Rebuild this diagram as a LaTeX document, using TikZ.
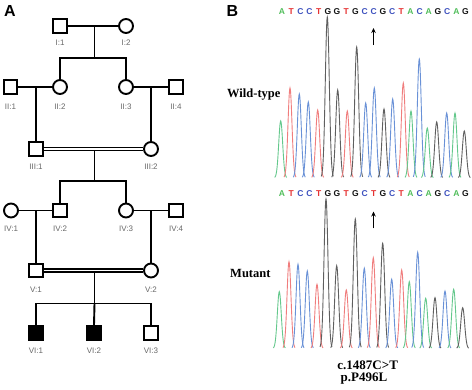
\documentclass[tikz,border=0pt]{standalone}
\usepackage{fontspec}
\setmainfont{Liberation Serif}
\newfontfamily\arialf{Liberation Sans}
\usetikzlibrary{arrows.meta}
\definecolor{trA}{RGB}{100,200,140}
\definecolor{trT}{RGB}{240,125,125}
\definecolor{trC}{RGB}{105,145,215}
\definecolor{trG}{RGB}{95,95,95}
\definecolor{cA}{RGB}{80,190,90}
\definecolor{cT}{RGB}{230,50,50}
\definecolor{cC}{RGB}{60,80,190}
\definecolor{cG}{RGB}{20,20,20}
\definecolor{labgray}{RGB}{105,105,105}
\begin{document}
\begin{tikzpicture}[x=1pt,y=-1pt,
  male/.style={draw, rectangle, minimum size=13.5pt, inner sep=0pt, line width=1.9pt, fill=white},
  female/.style={draw, circle, minimum size=14pt, inner sep=0pt, line width=1.9pt, fill=white},
  aff/.style={fill=black},
  plab/.style={font=\arialf\fontsize{8}{9}\selectfont, text=labgray, inner sep=0pt},
  pl/.style={line width=1.9pt},
  dbl/.style={double, double distance=1.7pt, line width=1.3pt},
  panel/.style={font=\arialf\bfseries\fontsize{16}{18}\selectfont, inner sep=0pt},
  seqletter/.style={font=\arialf\bfseries\fontsize{8.5}{9}\selectfont, inner sep=0pt},
  lbl/.style={font=\bfseries\fontsize{12.5}{14}\selectfont, inner sep=0pt},
  mlbl/.style={font=\bfseries\fontsize{13}{15}\selectfont, inner sep=0pt},
  arr/.style={-{Stealth[length=5pt,width=4.5pt]}, line width=1.1pt}
]
\useasboundingbox (0,0) rectangle (472,389);
\fill[white] (0,0) rectangle (472,389);

% panel letters
\node[panel] (pA) at (10,10.5) {A};
\node[panel] (pB) at (232.5,10.5) {B};

% pedigree nodes
\node[male] (i1) at (60,26) {};
\node[female] (i2) at (126,26) {};
\node[male] (ii1) at (10.5,87) {};
\node[female] (ii2) at (60,87) {};
\node[female] (ii3) at (126,87) {};
\node[male] (ii4) at (176,87) {};
\node[male] (iii1) at (36,149) {};
\node[female] (iii2) at (151,149) {};
\node[female] (iv1) at (11,210.5) {};
\node[male] (iv2) at (60,210.5) {};
\node[female] (iv3) at (126,210.5) {};
\node[male] (iv4) at (176,210.5) {};
\node[male] (v1) at (36,270.5) {};
\node[female] (v2) at (151,270.5) {};
\node[male,aff] (vi1) at (36,333) {};
\node[male,aff] (vi2) at (94,333) {};
\node[male] (vi3) at (151,333) {};

% pedigree labels
\foreach \n/\x/\y/\t in {li1/60/43/{I:1}, li2/126/43/{I:2},
  lii1/10.5/106.7/{II:1}, lii2/60/106.7/{II:2}, lii3/126/106.7/{II:3}, lii4/176/106.7/{II:4},
  liii1/36/166.7/{III:1}, liii2/151/166.7/{III:2},
  liv1/11/228.3/{IV:1}, liv2/60/228.3/{IV:2}, liv3/126/228.3/{IV:3}, liv4/176/228.3/{IV:4},
  lv1/36/290/{V:1}, lv2/151/290/{V:2},
  lvi1/36/350.7/{VI:1}, lvi2/94/350.7/{VI:2}, lvi3/151/350.7/{VI:3}}
  \node[plab] (\n) at (\x,\y) {\t};

% connectors
\coordinate (m1) at (94.5,26);
\coordinate (s1) at (94.5,58);
\draw[pl] (i1) -- (i2);
\draw[pl] (m1) -- (s1);
\draw[pl] (ii2.north) |- (s1) -| (ii3.north);

\draw[pl] (ii1) -- (ii2);
\draw[pl] (iii1.north) -- (iii1.north |- ii1.center);
\draw[pl] (ii3) -- (ii4);
\draw[pl] (iii2.north) -- (iii2.north |- ii3.center);

\draw[dbl] (iii1) -- (iii2);
\coordinate (m3) at (94.5,150.5);
\coordinate (s3) at (94.5,181);
\draw[pl] (m3) -- (s3);
\draw[pl] (iv2.north) |- (s3) -| (iv3.north);

\draw[pl] (iv1) -- (iv2);
\draw[pl] (v1.north) -- (v1.north |- iv1.center);
\draw[pl] (iv3) -- (iv4);
\draw[pl] (v2.north) -- (v2.north |- iv3.center);

\draw[dbl] (v1) -- (v2);
\coordinate (m5) at (94.5,272);
\coordinate (s5) at (94.5,303.5);
\draw[pl] (m5) -- (s5);
\draw[pl] (vi1.north) |- (s5) -| (vi3.north);
\draw[pl] (s5) -- (vi2.north);

% sequences
\foreach \l [count=\i from 0] in {A,T,C,C,T,G,G,T,G,C,C,G,C,T,A,C,A,G,C,A,G}
  \node[seqletter, text=c\l] (w\i) at ({282+\i*9.175},11.7) {\l};
\foreach \l [count=\i from 0] in {A,T,C,C,T,G,G,T,G,C,T,G,C,T,A,C,A,G,C,A,G}
  \node[seqletter, text=c\l] (mu\i) at ({282+\i*9.175},193.3) {\l};

% arrows
\coordinate (aw1) at (373.5,45);
\coordinate (aw2) at (373.5,28);
\draw[arr] (aw1) -- (aw2);
\coordinate (am1) at (373.5,228.3);
\coordinate (am2) at (373.5,211.5);
\draw[arr] (am1) -- (am2);

% chromatograms
\foreach \px/\pt/\pc in {280.7/121/A, 290/88/T, 299.3/94/C, 308.3/102/C, 317.7/110/T, 327.3/17/G, 337.7/90/G, 347.3/111/T, 356.7/47/G, 365.7/103/C, 374.3/88/C, 384/109/G, 392.7/99/C, 403.3/83/T, 411/111/A, 419.3/59/C, 427.3/128/A, 436.7/122/G, 446.7/113/C, 455/113/A, 464.3/131/G}
{
  \pgfmathsetmacro\da{\px-6}
  \pgfmathsetmacro\db{\px+6}
  \draw[tr\pc, line width=0.9pt] plot[domain=\da:\db, samples=31, smooth] (\x, {178-(178-\pt)*exp(-((\x-\px)/2.8)^2)});
}
\foreach \px/\pt/\pc in {279.3/291.7/A, 289/261.7/T, 298/264.3/C, 307.3/271/C, 317/284.3/T, 326/199/G, 336.7/265.7/G, 346.3/290/T, 355.3/219/G, 364.3/268.3/C, 373.3/257.7/T, 382.7/243.3/G, 391.7/279.3/C, 401.7/270/T, 409.3/281.7/A, 417.7/252.3/C, 425.7/298.3/A, 435/297.7/G, 445/291/C, 453.7/289.3/A, 462.7/307.7/G}
{
  \pgfmathsetmacro\da{\px-6}
  \pgfmathsetmacro\db{\px+6}
  \draw[tr\pc, line width=0.9pt] plot[domain=\da:\db, samples=31, smooth] (\x, {348.5-(348.5-\pt)*exp(-((\x-\px)/2.8)^2)});
}

% labels
\node[lbl, anchor=west] (wt) at (227,95) {Wild-type};
\node[lbl, anchor=west] (mut) at (230,273) {Mutant};
\node[mlbl] (cdna) at (367.7,365) {c.1487C>T};
\node[mlbl] (prot) at (364,379) {p.P496L};
\end{tikzpicture}
\end{document}
